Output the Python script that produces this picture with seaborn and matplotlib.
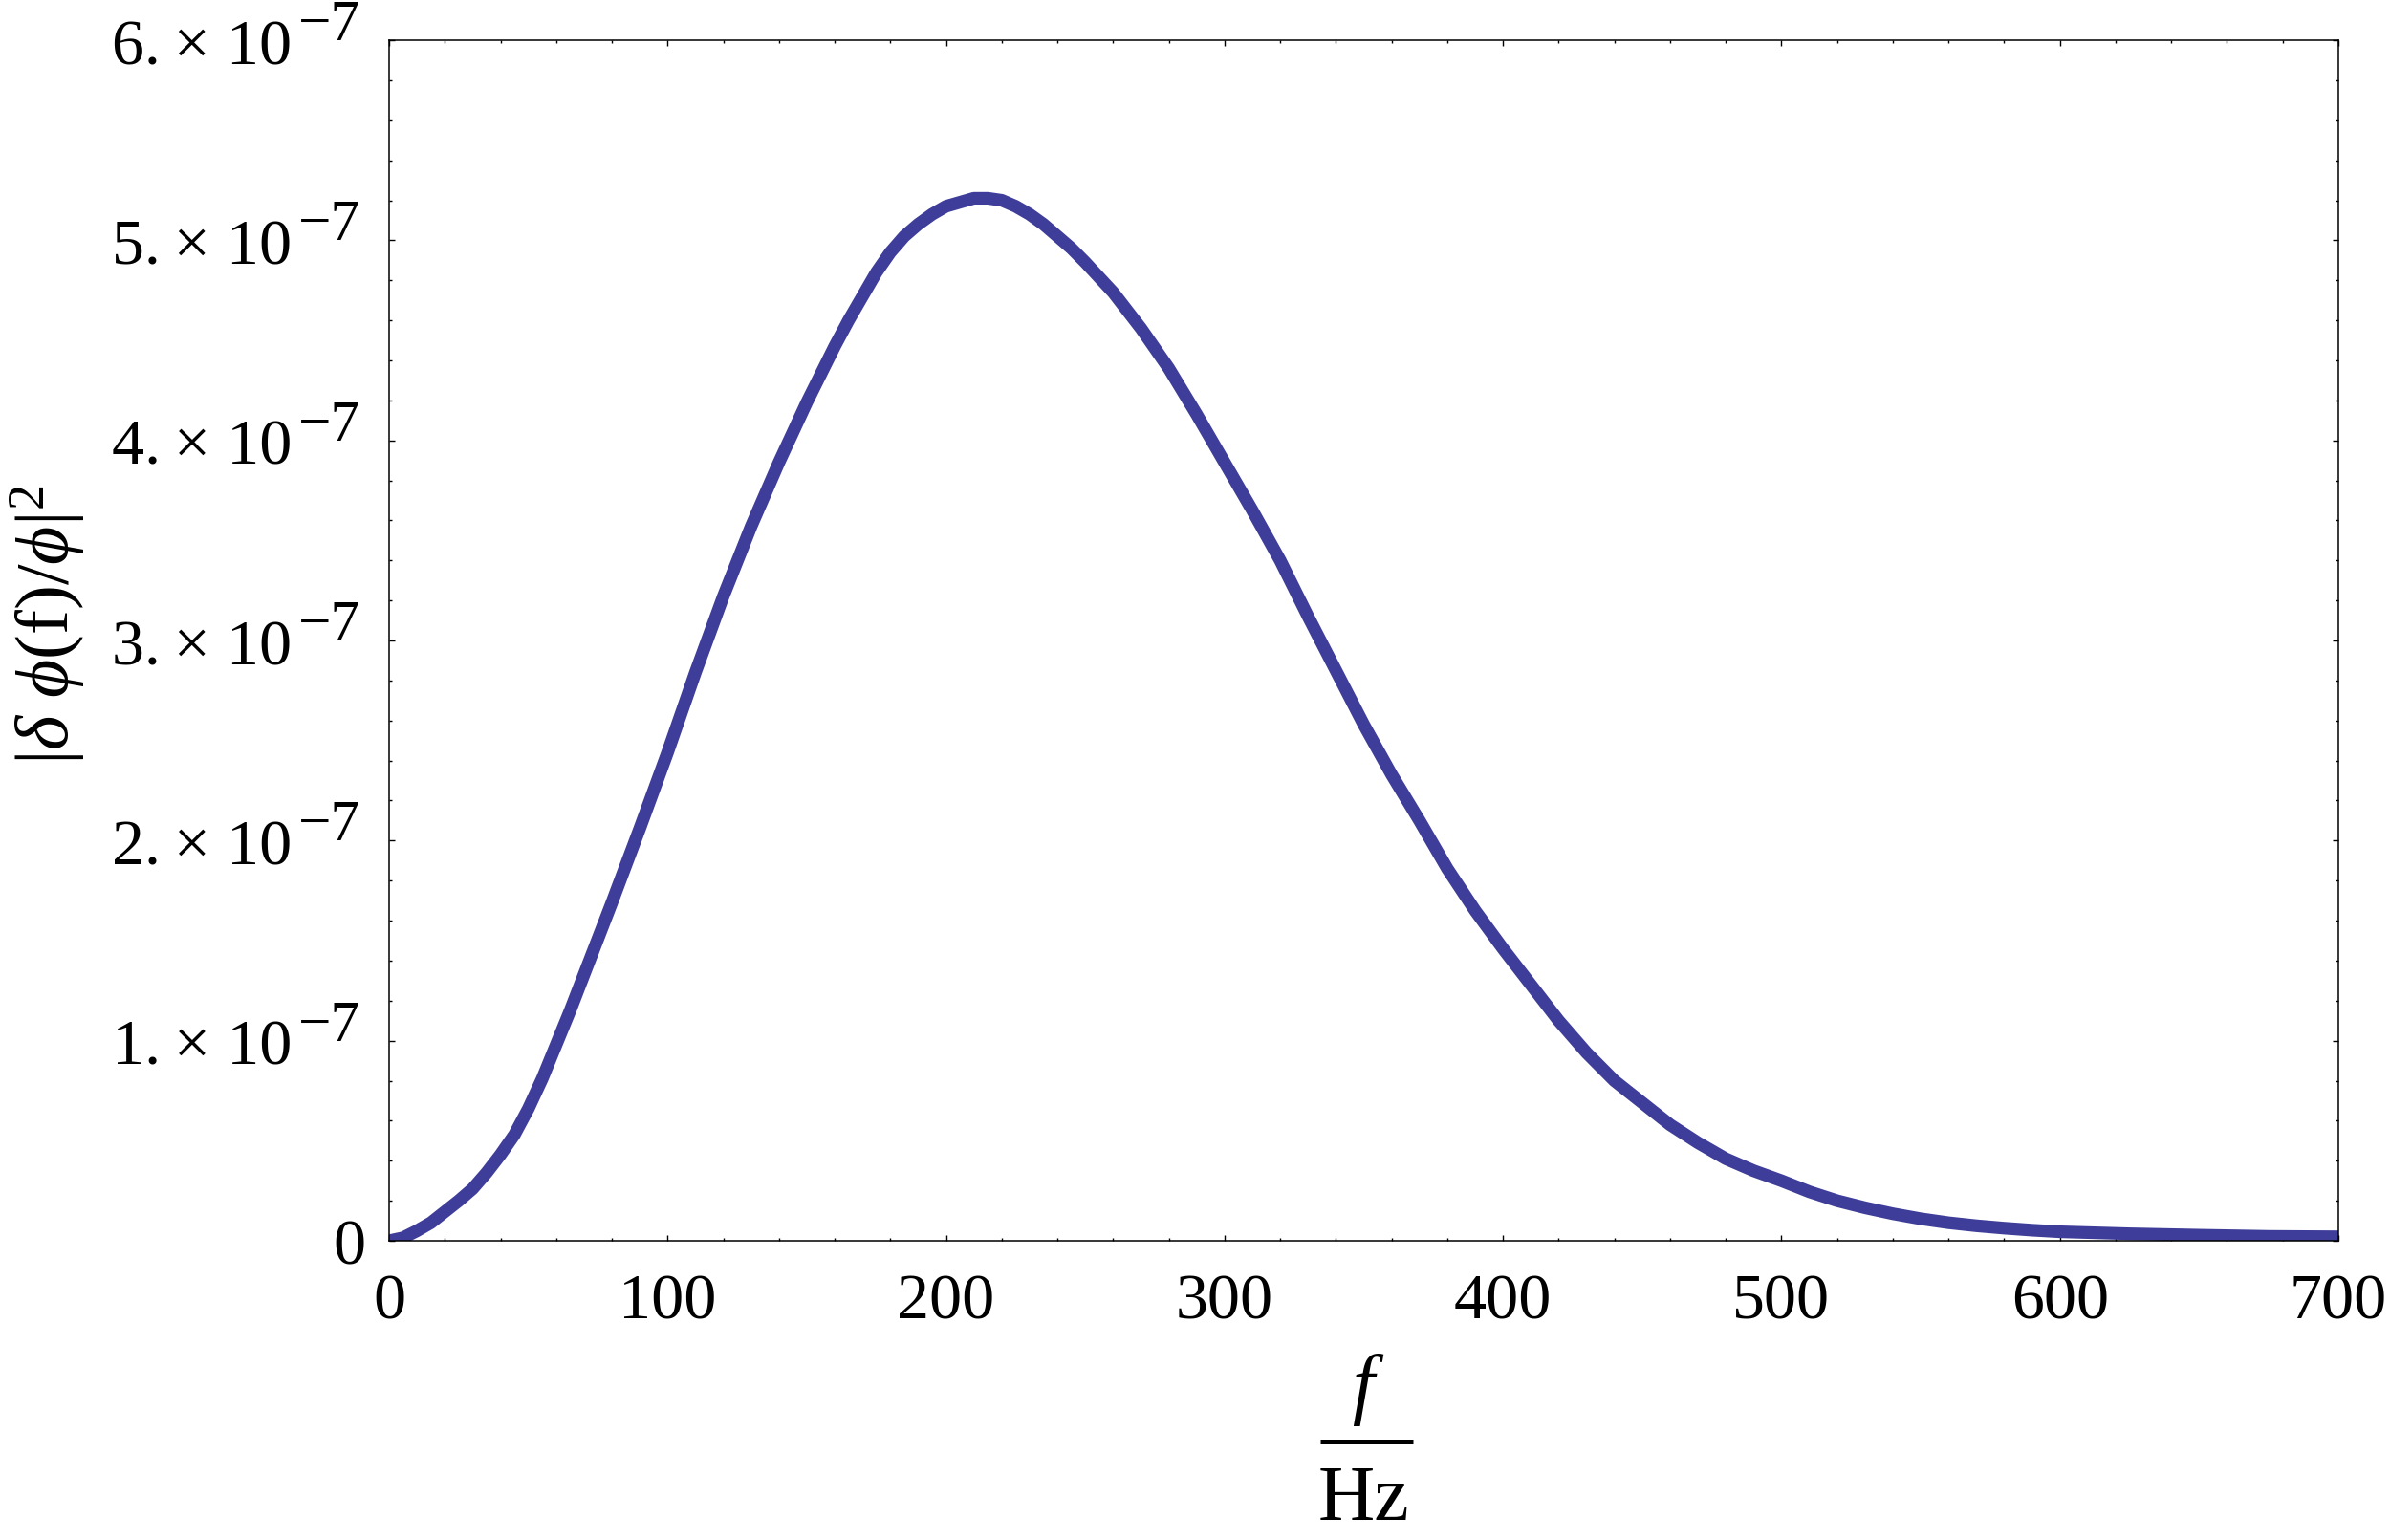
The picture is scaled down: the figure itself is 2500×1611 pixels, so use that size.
import numpy as np
import pandas as pd
import seaborn as sns
import matplotlib.pyplot as plt
from matplotlib.ticker import MultipleLocator

# frequency (Hz) and |delta phi(f)/phi|^2, in units of 1e-7
freq = [0, 5, 10, 15, 20, 25, 30, 35, 40, 45, 50, 55, 60, 65, 70, 80, 90,
        100, 110, 120, 130, 140, 150, 160, 165, 170, 175, 180, 185, 190, 195,
        200, 205, 210, 215, 220, 225, 230, 235, 240, 245, 250, 260, 270, 280,
        290, 300, 310, 320, 330, 340, 350, 360, 370, 380, 390, 400, 410, 420,
        430, 440, 450, 460, 470, 480, 490, 500, 510, 520, 530, 540, 550, 560,
        570, 580, 590, 600, 625, 650, 675, 700]
power_e7 = [0.00, 0.015, 0.05, 0.09, 0.145, 0.20, 0.26, 0.34, 0.43, 0.53,
            0.66, 0.81, 0.98, 1.15, 1.33, 1.69, 2.06, 2.44, 2.84, 3.22, 3.57,
            3.89, 4.19, 4.47, 4.60, 4.72, 4.84, 4.94, 5.02, 5.08, 5.13, 5.17,
            5.19, 5.21, 5.21, 5.20, 5.17, 5.13, 5.08, 5.02, 4.96, 4.89, 4.74,
            4.56, 4.36, 4.13, 3.89, 3.65, 3.40, 3.12, 2.85, 2.58, 2.33, 2.10,
            1.86, 1.65, 1.46, 1.28, 1.10, 0.94, 0.80, 0.69, 0.58, 0.49, 0.41,
            0.35, 0.30, 0.245, 0.20, 0.165, 0.135, 0.11, 0.09, 0.075, 0.063,
            0.053, 0.045, 0.035, 0.028, 0.022, 0.02]
y_ticks = [0, 1, 2, 3, 4, 5, 6]

df = pd.DataFrame({"f": freq, "p": power_e7})

sns.set_style("ticks")
plt.rcParams['font.family'] = ['Liberation Serif', 'DejaVu Serif']
plt.rcParams['mathtext.fontset'] = 'custom'
plt.rcParams['mathtext.rm'] = 'Liberation Serif'
plt.rcParams['mathtext.it'] = 'Liberation Serif:italic'
for k in ['text.color', 'axes.labelcolor', 'xtick.color', 'ytick.color']:
    plt.rcParams[k] = 'black'

fig = plt.figure(figsize=(25, 16.11), dpi=100)
ax = fig.add_axes([0.1628, 0.1943, 0.8156, 0.7796])

sns.lineplot(data=df, x="f", y="p", ax=ax, color="#3e3d99", linewidth=9.5,
             estimator=None, sort=False)
ax.lines[0].set_solid_joinstyle("round")

ax.set_xlim(0, 700)
ax.set_ylim(0, 6)
ax.xaxis.set_major_locator(MultipleLocator(100))
ax.xaxis.set_minor_locator(MultipleLocator(20))
ax.set_yticks(y_ticks)
ax.yaxis.set_minor_locator(MultipleLocator(0.2))

ax.tick_params(which="both", direction="in", top=True, right=True,
               width=1, color="black")
ax.tick_params(which="major", length=4.5)
ax.tick_params(which="minor", length=2.5)
ax.tick_params(axis="x", which="major", labelsize=49, pad=25)
ax.tick_params(axis="y", labelleft=False)

# Mathematica style y labels: "3. × 10" with a nearly full size exponent
ytr = ax.get_yaxis_transform()
for n in y_ticks:
    if n == 0:
        ax.text(-0.0118, n - 0.115, "0", transform=ytr, fontsize=49,
                ha="right", va="baseline")
        continue
    ax.text(-0.0500, n - 0.1195, f"{n}.\u2009\u00d7 10", transform=ytr,
            fontsize=49, ha="right", va="baseline")
    ax.text(-0.0466, n, "\u22127", transform=ytr, fontsize=44,
            ha="left", va="baseline")

for s in ax.spines.values():
    s.set_linewidth(1.1)
    s.set_color("black")

# x label drawn as a stacked fraction f / Hz
ax.text(0.4993, -0.1401, "f", transform=ax.transAxes, fontsize=59,
        style="italic", ha="center", va="baseline")
ax.plot([0.4777, 0.5252], [-0.1676, -0.1676], transform=ax.transAxes,
        color="black", lw=3.6, solid_capstyle="butt", clip_on=False)
ax.text(0.4998, -0.2325, "Hz", transform=ax.transAxes, fontsize=59,
        ha="center", va="baseline")
ax.set_xlabel("")

ax.set_ylabel(r"$|\delta\ \phi(\mathrm{f})/\phi|^{2}$", fontsize=56)
ax.yaxis.label.set_va("center")
ax.yaxis.set_label_coords(-0.1751, 0.513)

fig.savefig("out.png", dpi=100)
